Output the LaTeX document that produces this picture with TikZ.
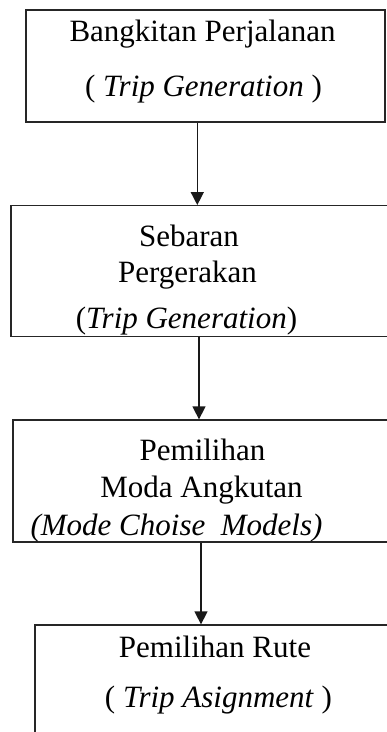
\documentclass[tikz,border=0pt]{standalone}
\usepackage{fontspec}
\setmainfont{Liberation Serif}
\usepackage{tikz}
\usetikzlibrary{arrows.meta,calc}

\begin{document}
\begin{tikzpicture}[
    x=1pt, y=-1pt,
    stage/.style={draw=black!85, line width=1.3pt, rectangle, inner sep=0pt},
    txt/.style={anchor=base, inner sep=0pt, font=\fontsize{31}{36}\selectfont},
    flow/.style={draw=black!90, line width=1.4pt, -{Triangle[length=13pt, width=13pt]}}
]
    % Page frame (cropped like the original)
    \useasboundingbox (0,0) rectangle (387,732);
    \clip (0,0) rectangle (387,732);

    % Stage boxes
    \node[stage, minimum width=359pt, minimum height=112pt] (gen)    at (205.5, 66)    {};
    \node[stage, minimum width=389pt, minimum height=131pt] (dist)   at (205.5, 271.2) {};
    \node[stage, minimum width=387pt, minimum height=122pt] (mode)   at (206.5, 481)   {};
    \node[stage, minimum width=365pt, minimum height=135pt] (assign) at (217.5, 692.5) {};

    % Stage 1 text
    \node[txt] (genA) at (202.5, 41.7) {Bangkitan Perjalanan};
    \node[txt] (genB) at (203.5, 96.7) {( \textit{Trip Generation} )};

    % Stage 2 text
    \node[txt] (distA) at (189, 246.7)   {Sebaran};
    \node[txt] (distB) at (187.5, 282.7) {Pergerakan};
    \node[txt] (distC) at (186.5, 328)   {(\textit{Trip Generation})};

    % Stage 3 text
    \node[txt] (modeA) at (202.5, 460)   {Pemilihan};
    \node[txt] (modeB) at (201.5, 497)   {Moda Angkutan};
    \node[txt] (modeC) at (176.5, 535)   {\textit{(Mode Choise\ \ Models)}};

    % Stage 4 text
    \node[txt] (assignA) at (215, 657)   {Pemilihan Rute};
    \node[txt] (assignB) at (218.5, 707) {( \textit{Trip Asignment} )};

    % Arrows between stages
    \draw[flow] ([xshift=-8.2pt]gen.south)  -- ([xshift=-8.2pt]gen.south |- dist.north);
    \draw[flow] ([xshift=-6.5pt]dist.south) -- ([xshift=-6.5pt]dist.south |- mode.north);
    \draw[flow] ([xshift=-5.5pt]mode.south) -- ([xshift=-5.5pt]mode.south |- assign.north);
\end{tikzpicture}
\end{document}
